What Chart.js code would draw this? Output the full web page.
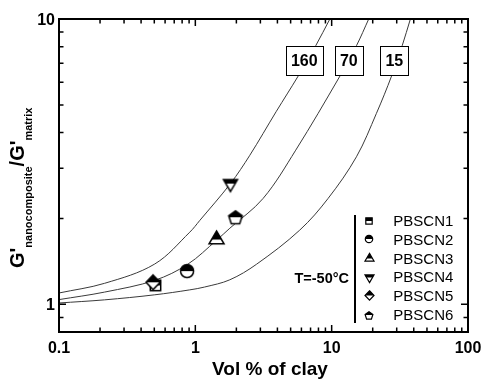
<!DOCTYPE html>
<html>
<head>
<meta charset="utf-8">
<script src="https://cdn.jsdelivr.net/npm/chart.js@4.4.1/dist/chart.umd.min.js"></script>
<style>
  html, body { margin: 0; padding: 0; background: #fff; }
  #wrap { width: 485px; height: 379px; }
</style>
</head>
<body>
<div id="wrap"><canvas id="chart" width="485" height="379"></canvas></div>
<script>
// model curves (vol % clay -> G' ratio)
const curve160X = [0.1, 0.216, 0.504, 0.91, 1.08, 1.81, 2.51, 3.91, 5.68, 7.64, 9.7];
const curve160Y = [1.096, 1.185, 1.385, 1.79, 1.97, 2.65, 3.33, 4.73, 6.31, 8.06, 10];
const curve70X = [0.1, 0.216, 0.504, 0.88, 1.43, 1.79, 3.14, 5.45, 11.5, 15.2, 18.7];
const curve70Y = [1.039, 1.104, 1.214, 1.382, 1.677, 1.848, 2.35, 3.47, 6.31, 8.06, 10];
const curve15X = [0.1, 0.216, 0.504, 0.91, 1.17, 1.79, 2.81, 5.83, 9.41, 15.2, 21.3, 27.5, 32.9, 37.8];
const curve15Y = [1.011, 1.037, 1.08, 1.124, 1.15, 1.219, 1.382, 1.82, 2.35, 3.29, 4.67, 6.31, 8.06, 10];
const curveLabels = ['160', '70', '15'];

// measured samples
const sampleNames = ['PBSCN1', 'PBSCN2', 'PBSCN3', 'PBSCN4', 'PBSCN5', 'PBSCN6'];
const sampleShapes = ['square', 'circle', 'triUp', 'triDown', 'diamond', 'pentagon'];
const clayVol = [0.51, 0.87, 1.43, 1.81, 0.49, 1.97];
const modRatio = [1.166, 1.308, 1.687, 2.65, 1.195, 2.02];

const xTickVals = [0.1, 1, 10, 100];
const xTickText = ['0.1', '1', '10', '100'];
const yTickVals = [1, 10];
const yTickText = ['1', '10'];

// where the aspect-ratio boxes sit (data coords)
const boxAnchorX = [6.3, 13.36, 28.8];
const boxAnchorY = 7.15;

const FONT = '"Liberation Sans", Arial, sans-serif';

// half-filled marker glyphs (top half black)
function makeMarker(shape, size) {
    const pad = 4;
    const c = document.createElement('canvas');
    c.width = c.height = Math.ceil(size + pad * 2);
    const g = c.getContext('2d');
    const m = c.width / 2;
    const r = size / 2;
    const path = () => {
        g.beginPath();
        if (shape === 'square') {
            g.rect(m - r * 0.8, m - r * 0.8, r * 1.6, r * 1.6);
        } else if (shape === 'circle') {
            g.arc(m, m, r * 0.93, 0, Math.PI * 2);
        } else if (shape === 'triUp') {
            const h = size * 0.85;
            g.moveTo(m, m - h * 2 / 3);
            g.lineTo(m + r, m + h / 3);
            g.lineTo(m - r, m + h / 3);
            g.closePath();
        } else if (shape === 'triDown') {
            const h = size * 0.85;
            g.moveTo(m, m + h * 2 / 3);
            g.lineTo(m + r, m - h / 3);
            g.lineTo(m - r, m - h / 3);
            g.closePath();
        } else if (shape === 'diamond') {
            g.moveTo(m, m - r * 1.05);
            g.lineTo(m + r, m);
            g.lineTo(m, m + r * 1.05);
            g.lineTo(m - r, m);
            g.closePath();
        } else if (shape === 'pentagon') {
            for (let k = 0; k < 5; k++) {
                const a = -Math.PI / 2 + k * Math.PI * 2 / 5;
                const px = m + Math.cos(a) * r * 1.02, py = m + 0.8 + Math.sin(a) * r * 1.02;
                if (k === 0) g.moveTo(px, py); else g.lineTo(px, py);
            }
            g.closePath();
        }
    };
    path();
    g.fillStyle = '#fff';
    g.fill();
    g.save();
    g.beginPath();
    g.rect(0, 0, c.width, m);
    g.clip();
    path();
    g.fillStyle = '#000';
    g.fill();
    g.restore();
    path();
    g.lineWidth = size > 10 ? 1.5 : 1.2;
    g.strokeStyle = '#000';
    g.stroke();
    return c;
}

const bigSize = { square: 13, circle: 14, triUp: 15, triDown: 14, diamond: 14, pentagon: 14 };
const smallSize = { square: 8, circle: 8, triUp: 9, triDown: 9, diamond: 9, pentagon: 8 };
const bigMarkers = sampleShapes.map(s => makeMarker(s, bigSize[s]));
const smallMarkers = sampleShapes.map(s => makeMarker(s, smallSize[s]));

const toPts = (xs, ys) => xs.map((x, i) => ({ x: x, y: ys[i] }));

const curveSets = [[curve160X, curve160Y], [curve70X, curve70Y], [curve15X, curve15Y]].map((c, i) => ({
    label: curveLabels[i],
    data: toPts(c[0], c[1]),
    showLine: true,
    borderColor: '#3a3a3a',
    borderWidth: 1,
    pointRadius: 0,
    tension: 0.35,
    order: 5
}));

const sampleSets = sampleNames.map((name, i) => ({
    label: name,
    data: [{ x: clayVol[i], y: modRatio[i] }],
    pointStyle: bigMarkers[i],
    pointRadius: 7,
    showLine: false,
    order: name === 'PBSCN5' ? 0 : 1
}));

const decorations = {
    id: 'decorations',
    afterDraw(chart) {
        const ctx = chart.ctx;
        const a = chart.chartArea;
        const sx = chart.scales.x, sy = chart.scales.y;
        ctx.save();

        // aspect ratio boxes
        ctx.font = 'bold 16px ' + FONT;
        ctx.textAlign = 'center';
        ctx.textBaseline = 'alphabetic';
        curveLabels.forEach((t, i) => {
            const cx = sx.getPixelForValue(boxAnchorX[i]);
            const cy = sy.getPixelForValue(boxAnchorY);
            const w = ctx.measureText(t).width + 10;
            const h = 29;
            const l = Math.round(cx - w / 2) + 0.5, tp = Math.round(cy - h / 2) + 0.5;
            ctx.fillStyle = '#fff';
            ctx.fillRect(l, tp, Math.round(w), h);
            ctx.strokeStyle = '#000';
            ctx.lineWidth = 1;
            ctx.strokeRect(l, tp, Math.round(w), h);
            ctx.fillStyle = '#000';
            ctx.fillText(t, cx, cy + 5.7);
        });

        // frame
        ctx.strokeStyle = '#000';
        ctx.lineWidth = 2;
        ctx.strokeRect(a.left, a.top, a.right - a.left, a.bottom - a.top);

        // inward ticks
        ctx.lineWidth = 1.5;
        ctx.beginPath();
        [0.1, 1, 10].forEach(d => {
            for (let k = 1; k <= 9; k++) {
                const v = d * k;
                if (v <= 0.1 || v >= 100) continue;
                const px = sx.getPixelForValue(v);
                const len = k === 1 ? 7 : 4.5;
                ctx.moveTo(px, a.bottom); ctx.lineTo(px, a.bottom - len);
                ctx.moveTo(px, a.top); ctx.lineTo(px, a.top + len);
            }
        });
        [0.1, 1].forEach(d => {
            for (let k = 1; k <= 9; k++) {
                const v = d * k;
                if (v <= 0.8 || v >= 10) continue;
                const py = sy.getPixelForValue(v);
                const len = k === 1 ? 7 : 4.5;
                ctx.moveTo(a.left, py); ctx.lineTo(a.left + len, py);
                ctx.moveTo(a.right, py); ctx.lineTo(a.right - len, py);
            }
        });
        ctx.stroke();

        // tick labels
        ctx.fillStyle = '#000';
        ctx.font = 'bold 16px ' + FONT;
        ctx.textAlign = 'center';
        xTickVals.forEach((v, i) => ctx.fillText(xTickText[i], sx.getPixelForValue(v), 352.5));
        ctx.textAlign = 'right';
        yTickVals.forEach((v, i) => ctx.fillText(yTickText[i], 55, sy.getPixelForValue(v) + 5.7));

        // x title
        ctx.textAlign = 'center';
        ctx.font = 'bold 19px ' + FONT;
        ctx.fillText('Vol % of clay', 270, 375);

        // y title with subscripts
        ctx.save();
        ctx.translate(23.5, 268);
        ctx.rotate(-Math.PI / 2);
        ctx.textAlign = 'left';
        let pos = 0;
        [["G'", 20, 0], ['nanocomposite', 11, 8], ["/G'", 20, 0], ['matrix', 11, 8]].forEach(p => {
            ctx.font = 'bold ' + p[1] + 'px ' + FONT;
            ctx.fillText(p[0], pos, p[2]);
            pos += ctx.measureText(p[0]).width;
        });
        ctx.restore();

        // legend
        ctx.lineWidth = 2;
        ctx.beginPath();
        ctx.moveTo(355, 215);
        ctx.lineTo(355, 323);
        ctx.stroke();
        ctx.font = 'bold 14.5px ' + FONT;
        ctx.textAlign = 'right';
        ctx.fillText('T=-50\u00B0C', 349, 283);
        ctx.font = '15px ' + FONT;
        ctx.textAlign = 'left';
        sampleNames.forEach((name, i) => {
            const base = 226 + i * 18.8;
            const mk = smallMarkers[i];
            ctx.drawImage(mk, Math.round(369.3 - mk.width / 2), Math.round(base - 5.4 - mk.height / 2));
            ctx.fillText(name, 393.3, base);
        });

        ctx.restore();
    }
};

new Chart(document.getElementById('chart'), {
    type: 'scatter',
    data: { datasets: sampleSets.concat(curveSets) },
    options: {
        responsive: false,
        animation: false,
        devicePixelRatio: 1,
        layout: { padding: { left: 59, right: 17, top: 19, bottom: 47 } },
        scales: {
            x: { type: 'logarithmic', min: 0.1, max: 100, display: false },
            y: { type: 'logarithmic', min: 0.8, max: 10, display: false }
        },
        plugins: {
            legend: { display: false },
            tooltip: { enabled: false }
        }
    },
    plugins: [decorations]
});
</script>
</body>
</html>
